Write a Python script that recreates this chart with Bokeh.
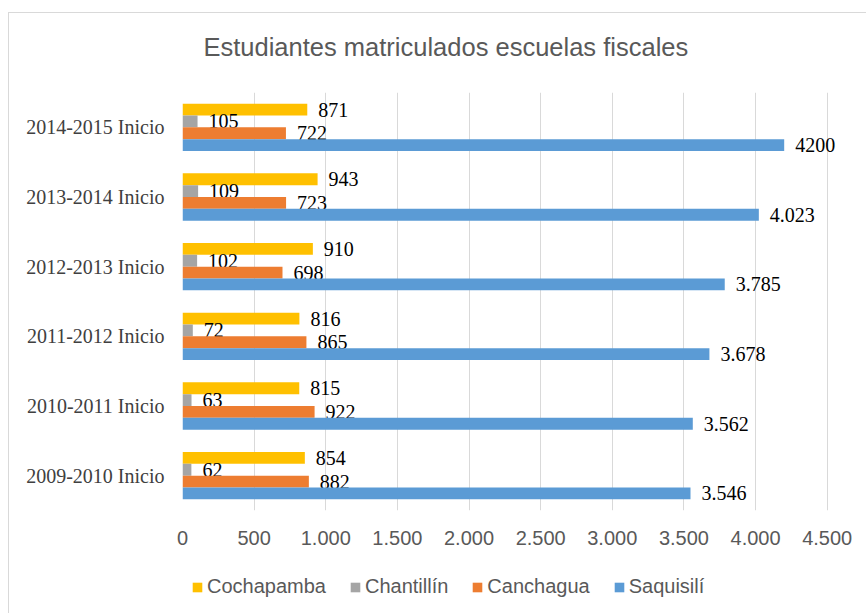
from bokeh.plotting import figure
from bokeh.layouts import column
from bokeh.models import ColumnDataSource, FactorRange, FixedTicker, Legend, LegendItem, Range1d, Label
from bokeh.transform import dodge
from bokeh.core.properties import value
from bokeh.embed import file_html
from bokeh.resources import INLINE

title_text = "Estudiantes matriculados escuelas fiscales"
# categories listed bottom to top
periods = ["2009-2010 Inicio", "2010-2011 Inicio", "2011-2012 Inicio",
           "2012-2013 Inicio", "2013-2014 Inicio", "2014-2015 Inicio"]
cochapamba = [854, 815, 816, 910, 943, 871]
chantillin = [62, 63, 72, 102, 109, 105]
canchagua = [882, 922, 865, 698, 723, 722]
saquisili = [3546, 3562, 3678, 3785, 4023, 4200]
saquisili_labels = ["3.546", "3.562", "3.678", "3.785", "4.023", "4200"]
x_ticks = [0, 500, 1000, 1500, 2000, 2500, 3000, 3500, 4000, 4500]
x_tick_labels = ["0", "500", "1.000", "1.500", "2.000", "2.500", "3.000", "3.500", "4.000", "4.500"]

series = [
    ("Cochapamba", cochapamba, [str(v) for v in cochapamba], "#FFC000", 0.255),
    ("Chantillín", chantillin, [str(v) for v in chantillin], "#A5A5A5", 0.085),
    ("Canchagua", canchagua, [str(v) for v in canchagua], "#ED7D31", -0.085),
    ("Saquisilí", saquisili, saquisili_labels, "#5B9BD5", -0.255),
]

# title strip above the chart (its frame is aligned with the chart frame)
tt = figure(width=858, height=79, output_backend="svg", toolbar_location=None,
            x_axis_location=None, y_axis_location=None, min_border=0,
            x_range=Range1d(0, 659), y_range=Range1d(0, 79))
tt.grid.visible = False
tt.outline_line_color = None
tt.add_layout(Label(x=21, y=46, text=title_text, text_baseline="middle", text_align="left",
                    text_font="Liberation Sans", text_font_size="25.5px", text_color="#595959"))

p = figure(frame_width=659, frame_height=418, y_range=FactorRange(*periods, range_padding=0),
           x_range=Range1d(0, 4600), output_backend="svg", toolbar_location=None,
           min_border_left=173, min_border_right=26, min_border_top=0, min_border_bottom=63)

# legend strip under the chart
lg = figure(width=858, height=41, output_backend="svg", toolbar_location=None,
            x_axis_location=None, y_axis_location=None, min_border=0,
            x_range=Range1d(0, 1), y_range=Range1d(0, 1))
lg.grid.visible = False
lg.outline_line_color = None

items = []
for name, vals, labs, color, off in series:
    src = ColumnDataSource(dict(period=periods, val=vals, lab=labs))
    p.hbar(y=dodge("period", off, range=p.y_range), right="val", left=0, height=0.17,
           source=src, fill_color=color, line_color=None)
    p.text(x="val", y=dodge("period", off, range=p.y_range), text="lab", source=src,
           x_offset=11, text_baseline="middle", text_align="left",
           text_font=value("Liberation Serif"), text_font_size="20px", text_color="#000000")
    key = lg.hbar(y=[-5], right=[1], left=0, height=0.2, fill_color=color, line_color=None)
    items.append(LegendItem(label=name, renderers=[key]))

legend = Legend(items=items, orientation="horizontal", location=(9, 16),
                label_text_font="Liberation Sans", label_text_font_size="20px",
                label_text_color="#595959", glyph_width=12, glyph_height=12,
                spacing=23, padding=0, margin=0, label_standoff=4,
                background_fill_alpha=0, border_line_color=None)
lg.add_layout(legend, "center")

p.xaxis.ticker = FixedTicker(ticks=x_ticks)
p.xaxis.major_label_overrides = {t: l for t, l in zip(x_ticks, x_tick_labels)}
p.xaxis.major_label_text_font = "Liberation Sans"
p.xaxis.major_label_text_font_size = "20px"
p.xaxis.major_label_text_color = "#595959"
p.xaxis.major_label_standoff = 14
p.yaxis.major_label_text_font = "Liberation Serif"
p.yaxis.major_label_text_font_size = "20px"
p.yaxis.major_label_text_color = "#404040"
p.yaxis.major_label_standoff = 12
for ax in (p.xaxis, p.yaxis):
    ax.axis_line_color = None
    ax.major_tick_line_color = None
    ax.minor_tick_line_color = None

p.xgrid.grid_line_color = "#d9d9d9"
p.ygrid.grid_line_color = None
p.outline_line_color = None

page = column(tt, p, lg, spacing=0)
page.styles = {"border-left": "1px solid #d9d9d9", "border-top": "1px solid #d9d9d9",
               "margin-left": "8px", "margin-top": "12px"}

open("out.html", "w").write(file_html(page, INLINE))
